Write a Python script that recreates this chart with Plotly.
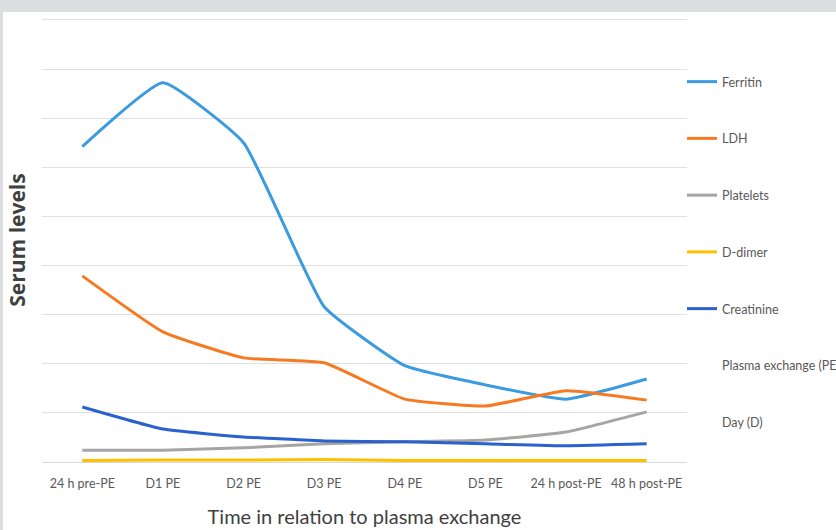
import plotly.graph_objects as go

categories = ["24 h pre-PE", "D1 PE", "D2 PE", "D3 PE", "D4 PE", "D5 PE", "24 h post-PE", "48 h post-PE"]
ferritin = [6.42, 7.72, 6.50, 3.16, 1.96, 1.57, 1.28, 1.69]
ldh = [3.79, 2.65, 2.12, 2.02, 1.28, 1.14, 1.45, 1.26]
platelets = [0.24, 0.24, 0.29, 0.37, 0.41, 0.45, 0.61, 1.02]
d_dimer = [0.03, 0.04, 0.04, 0.05, 0.03, 0.03, 0.03, 0.03]
creatinine = [1.12, 0.67, 0.51, 0.43, 0.41, 0.37, 0.33, 0.37]

series = [
    ("Ferritin", ferritin, "#3a9be0"),
    ("LDH", ldh, "#f67a22"),
    ("Platelets", platelets, "#a5a5a5"),
    ("D-dimer", d_dimer, "#ffc000"),
    ("Creatinine", creatinine, "#2b60cf"),
]
extra_legend = ["Plasma exchange (PE)", "Day (D)"]

FONT = "Lato, Open Sans, sans-serif"

fig = go.Figure()
for name, vals, col in series:
    fig.add_trace(go.Scatter(
        x=categories, y=vals, name=name, mode="lines",
        line=dict(color=col, width=3, shape="spline", smoothing=0.4),
        legendgroup=name,
    ))
for name in extra_legend:
    fig.add_trace(go.Scatter(
        x=[categories[0]], y=[None], name=name, mode="lines",
        line=dict(color="rgba(0,0,0,0)", width=3),
        legendgroup=name,
    ))

W, H = 836, 530
ml, mr, mt, mb = 42, 149, 18, 68
pw, ph = W - ml - mr, H - mt - mb

fig.update_layout(
    width=W, height=H,
    margin=dict(l=ml, r=mr, t=mt, b=mb, autoexpand=False),
    paper_bgcolor="white", plot_bgcolor="white",
    font=dict(family=FONT, color="#595959", size=12),
    showlegend=True,
    legend=dict(
        x=(682 - ml) / pw, xanchor="left", y=1 - (67 - mt) / ph, yanchor="top",
        traceorder="grouped", tracegroupgap=37.5,
        font=dict(family=FONT, size=12.5, color="#595959"),
        bgcolor="rgba(0,0,0,0)", itemwidth=30,
    ),
    xaxis=dict(
        range=[-0.5, len(categories) - 0.5],
        showgrid=False, showline=False, ticks="",
        tickfont=dict(family=FONT, size=12.5, color="#595959"),
        ticklabelstandoff=12,
        title=dict(text="Time in relation to plasma exchange",
                   font=dict(family=FONT, size=20, color="#404040"), standoff=20),
        zeroline=False,
    ),
    yaxis=dict(
        range=[0, 9.04], dtick=1, showticklabels=False, ticks="",
        showgrid=True, gridcolor="#e0e0e0", gridwidth=1,
        zeroline=True, zerolinecolor="#d9d9d9", zerolinewidth=1,
        title=dict(text="<b>Serum levels</b>",
                   font=dict(family="Open Sans, sans-serif", size=21, color="#404040"), standoff=9),
    ),
    shapes=[
        dict(type="rect", xref="paper", yref="paper",
             x0=-ml / pw, x1=(W - ml) / pw, y0=1 + (mt - 12) / ph, y1=1 + mt / ph,
             fillcolor="#dcdddf", line=dict(width=0), layer="above"),
        dict(type="rect", xref="paper", yref="paper",
             x0=-ml / pw, x1=-(ml - 3) / pw, y0=-mb / ph, y1=1 + mt / ph,
             fillcolor="#dcdddf", line=dict(width=0), layer="above"),
    ],
)

fig.write_html("out.html", config={"displayModeBar": False},
               post_script="document.body.style.margin='0';")
